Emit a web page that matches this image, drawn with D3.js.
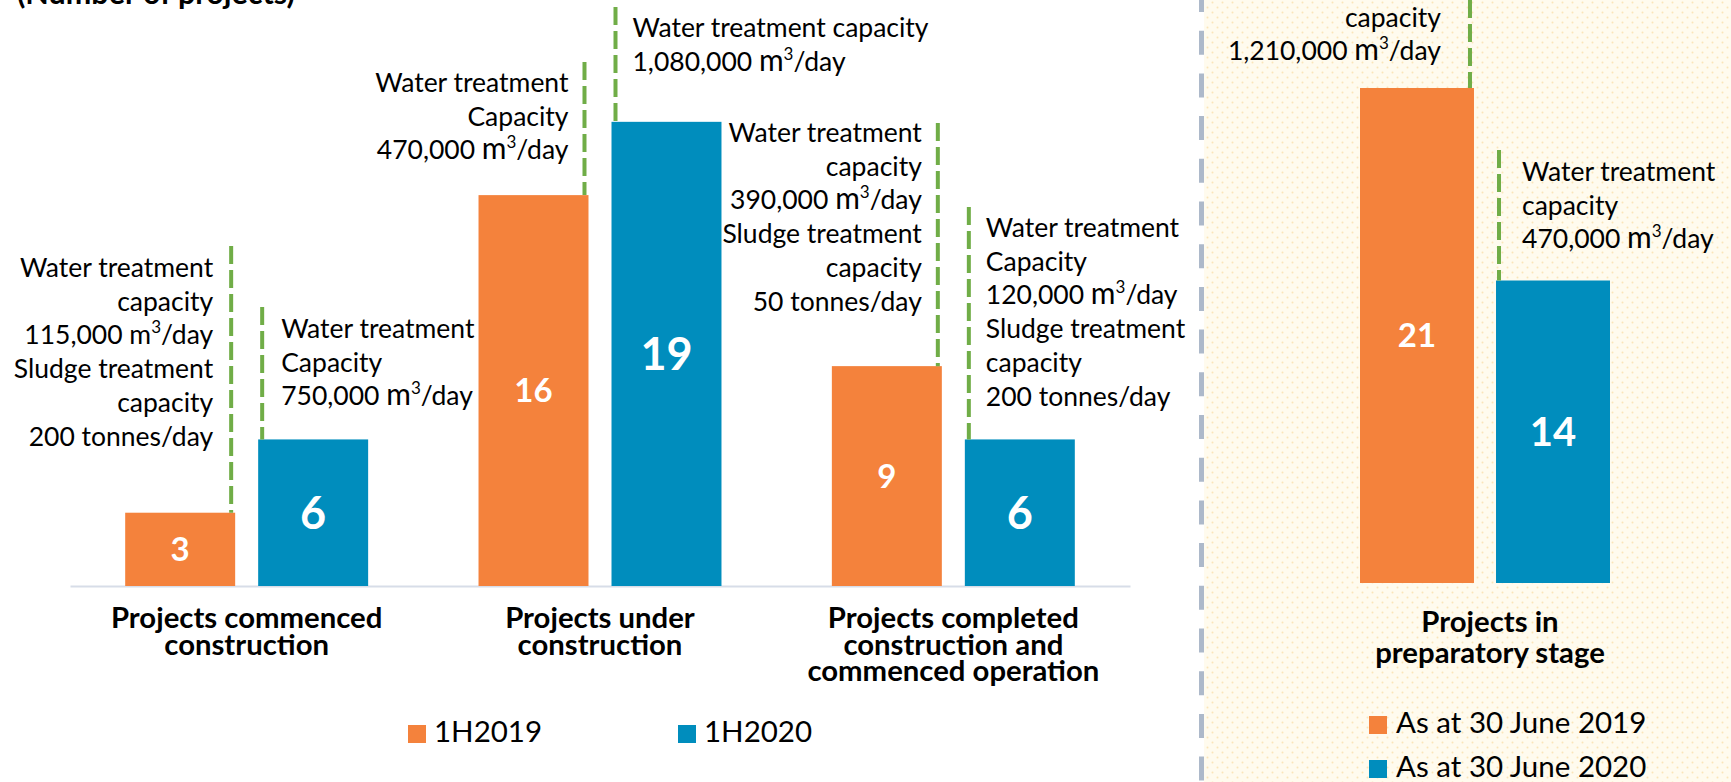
<!DOCTYPE html>
<html>
<head>
<meta charset="utf-8">
<script src="https://cdn.jsdelivr.net/npm/d3@7"></script>
<style>
  body { margin: 0; background: #fff; }
  svg { display: block; }
  text { font-family: Lato, "Noto Sans", sans-serif; fill: #000; }
</style>
</head>
<body>
<div id="chart-area"></div>
<script>
// ---- data ----
const categories = ["commenced", "under", "completed"];
const categoryLines = [
    ["Projects commenced", "construction"],
    ["Projects under", "construction"],
    ["Projects completed", "construction and", "commenced operation"]
];
const seriesNames = ["1H2019", "1H2020"];
const values2019 = [3, 16, 9];
const values2020 = [6, 19, 6];

const prepLines = ["Projects in", "preparatory stage"];
const prepSeries = ["As at 30 June 2019", "As at 30 June 2020"];
const prepValues = [21, 14];

const notes2019 = [
    ["Water treatment", "capacity", "115,000 m³/day", "Sludge treatment", "capacity", "200 tonnes/day"],
    ["Water treatment", "Capacity", "470,000 m³/day"],
    ["Water treatment", "capacity", "390,000 m³/day", "Sludge treatment", "capacity", "50 tonnes/day"]
];
const notes2020 = [
    ["Water treatment", "Capacity", "750,000 m³/day"],
    ["Water treatment capacity", "1,080,000 m³/day"],
    ["Water treatment", "Capacity", "120,000 m³/day", "Sludge treatment", "capacity", "200 tonnes/day"]
];
const prepNotes = [
    ["Water treatment", "capacity", "1,210,000 m³/day"],
    ["Water treatment", "capacity", "470,000 m³/day"]
];

// ---- layout ----
const W = 1731, H = 782;
const orange = "#f4823c", blue = "#008dbd", green = "#70ad47";
const baseY = 586;

// leader line top / first text baseline / gap between line and text
const noteTop2019 = [246, 62, 123], noteBase2019 = [277, 92, 142], noteGap2019 = [18, 16, 16];
const noteTop2020 = [307, 7, 207], noteBase2020 = [338, 37, 237], noteGap2020 = [19, 17, 17];
const prepTop = [0, 150], prepBase = [-7, 181], prepGap = [29, 23];
const lineStep = 33.7;

const svg = d3.select("#chart-area")
    .append("svg")
        .attr("width", W)
        .attr("height", H);

// right panel background
const defs = svg.append("defs");
const pat = defs.append("pattern")
    .attr("id", "dots")
    .attr("width", 10).attr("height", 10)
    .attr("patternUnits", "userSpaceOnUse");
pat.append("rect").attr("width", 10).attr("height", 10).attr("fill", "#fffbee");
pat.append("circle").attr("cx", 2.5).attr("cy", 2.5).attr("r", 1).attr("fill", "#fbe5b8");
pat.append("circle").attr("cx", 7.5).attr("cy", 7.5).attr("r", 1).attr("fill", "#fbe5b8");

svg.append("rect")
    .attr("x", 1204).attr("y", 0)
    .attr("width", W - 1204).attr("height", H)
    .attr("fill", "url(#dots)");
svg.append("line")
    .attr("x1", 1201.5).attr("x2", 1201.5)
    .attr("y1", 0).attr("y2", H)
    .attr("stroke", "#adb9ca")
    .attr("stroke-width", 5)
    .attr("stroke-dasharray", "24 18.7")
    .attr("stroke-dashoffset", 12);

// title (cut off at the top)
svg.append("text")
    .attr("x", 17).attr("y", 4)
    .attr("font-size", "30.5px")
    .attr("font-weight", "bold")
    .text("(Number of projects)");

function writeLine(t, line, bigM) {
    const i = line.indexOf("m³");
    if (i < 0) { t.text(line); return; }
    t.append("tspan").text(line.slice(0, i));
    t.append("tspan").attr("font-size", bigM ? "30px" : null).text("m");
    t.append("tspan").attr("font-size", "17px").attr("dy", -11).text("3");
    t.append("tspan").attr("dy", 11).text(line.slice(i + 2));
}

function drawNote(lines, lx, top, barTop, base, gap, side, bigM) {
    svg.append("line")
        .attr("x1", lx).attr("x2", lx)
        .attr("y1", top).attr("y2", barTop)
        .attr("stroke", green)
        .attr("stroke-width", 4)
        .attr("stroke-dasharray", "18 6");
    lines.forEach((line, i) => {
        const t = svg.append("text")
            .attr("x", side === "left" ? lx - gap : lx + gap)
            .attr("y", base + i * lineStep)
            .attr("font-size", "26.5px")
            .attr("text-anchor", side === "left" ? "end" : "start");
        writeLine(t, line, bigM);
    });
}

// ---- left chart ----
const x0 = d3.scaleBand()
    .domain(categories)
    .range([70, 1130])
    .padding(0);

const x1 = d3.scaleBand()
    .domain(seriesNames)
    .range([0, x0.bandwidth()])
    .paddingInner(0.173)
    .paddingOuter(0.415);

const y = d3.scaleLinear().domain([0, 20]).range([baseY, baseY - 20 * 24.43]);

const color = d3.scaleOrdinal().domain(seriesNames).range([orange, blue]);

const rows = [];
categories.forEach((c, i) => {
    rows.push({cat: c, s: seriesNames[0], v: values2019[i], note: notes2019[i],
               top: noteTop2019[i], base: noteBase2019[i], gap: noteGap2019[i]});
    rows.push({cat: c, s: seriesNames[1], v: values2020[i], note: notes2020[i],
               top: noteTop2020[i], base: noteBase2020[i], gap: noteGap2020[i]});
});

const axis = svg.append("g")
    .attr("transform", "translate(0," + baseY + ")")
    .call(d3.axisBottom(x0).tickSize(0).tickFormat(""));
axis.select(".domain").attr("stroke", "#d7dde8").attr("stroke-width", 2);

svg.selectAll("rect.bar").data(rows).enter().append("rect")
    .attr("class", "bar")
    .attr("x", d => x0(d.cat) + x1(d.s))
    .attr("y", d => y(d.v))
    .attr("width", x1.bandwidth())
    .attr("height", d => baseY - y(d.v))
    .attr("fill", d => color(d.s));

svg.selectAll("text.val").data(rows).enter().append("text")
    .attr("class", "val")
    .attr("x", d => x0(d.cat) + x1(d.s) + x1.bandwidth() / 2)
    .attr("y", d => (y(d.v) + baseY) / 2)
    .attr("dy", "0.36em")
    .attr("text-anchor", "middle")
    .attr("font-weight", "bold")
    .attr("font-size", d => d.s === seriesNames[0] ? "33px" : "45px")
    .style("fill", "#fff")
    .text(d => d.v);

rows.forEach((d, i) => {
    const bx = x0(d.cat) + x1(d.s);
    const first = d.s === seriesNames[0];
    const lx = first ? bx + x1.bandwidth() - 4 : bx + 4;
    drawNote(d.note, lx, d.top, y(d.v), d.base, d.gap, first ? "left" : "right", i !== 0);
});

categories.forEach((c, i) => {
    const t = svg.append("text")
        .attr("text-anchor", "middle")
        .attr("font-weight", "bold")
        .attr("font-size", "29.3px");
    categoryLines[i].forEach((line, j) => {
        t.append("tspan")
            .attr("x", x0(c) + x0.bandwidth() / 2)
            .attr("y", 628 + j * 26.5)
            .text(line);
    });
});

// left legend
const legL = svg.selectAll("g.legL").data(seriesNames).enter().append("g")
    .attr("class", "legL")
    .attr("transform", (d, i) => "translate(" + [408, 678][i] + ",725)");
legL.append("rect").attr("width", 18).attr("height", 18).attr("fill", d => color(d));
legL.append("text").attr("x", 26).attr("y", 17).attr("font-size", "29.5px").text(d => d);

// ---- right chart ----
const xr = d3.scaleBand()
    .domain(prepSeries)
    .range([1360, 1610])
    .paddingInner(0.162);
const yr = d3.scaleLinear().domain([3, 21]).range([583, 88]);
const colorR = d3.scaleOrdinal().domain(prepSeries).range([orange, blue]);

svg.selectAll("rect.prep").data(prepSeries).enter().append("rect")
    .attr("class", "prep")
    .attr("x", d => xr(d))
    .attr("y", (d, i) => yr(prepValues[i]))
    .attr("width", xr.bandwidth())
    .attr("height", (d, i) => 583 - yr(prepValues[i]))
    .attr("fill", d => colorR(d));

svg.selectAll("text.pval").data(prepSeries).enter().append("text")
    .attr("class", "pval")
    .attr("x", d => xr(d) + xr.bandwidth() / 2)
    .attr("y", (d, i) => (yr(prepValues[i]) + 583) / 2)
    .attr("dy", "0.36em")
    .attr("text-anchor", "middle")
    .attr("font-weight", "bold")
    .attr("font-size", (d, i) => i === 0 ? "33px" : "40px")
    .style("fill", "#fff")
    .text((d, i) => prepValues[i]);

prepSeries.forEach((s, i) => {
    const lx = i === 0 ? xr(s) + xr.bandwidth() - 4 : xr(s) + 3;
    drawNote(prepNotes[i], lx, prepTop[i], yr(prepValues[i]), prepBase[i], prepGap[i],
             i === 0 ? "left" : "right", true);
});

const pt = svg.append("text")
    .attr("text-anchor", "middle")
    .attr("font-weight", "bold")
    .attr("font-size", "29.3px");
prepLines.forEach((line, j) => {
    pt.append("tspan").attr("x", 1490).attr("y", 632 + j * 30.5).text(line);
});

const legR = svg.selectAll("g.legR").data(prepSeries).enter().append("g")
    .attr("class", "legR")
    .attr("transform", (d, i) => "translate(1369," + (716 + i * 44) + ")");
legR.append("rect").attr("width", 18).attr("height", 18).attr("fill", d => colorR(d));
legR.append("text").attr("x", 27).attr("y", 17).attr("font-size", "29.5px").text(d => d);
</script>
</body>
</html>
